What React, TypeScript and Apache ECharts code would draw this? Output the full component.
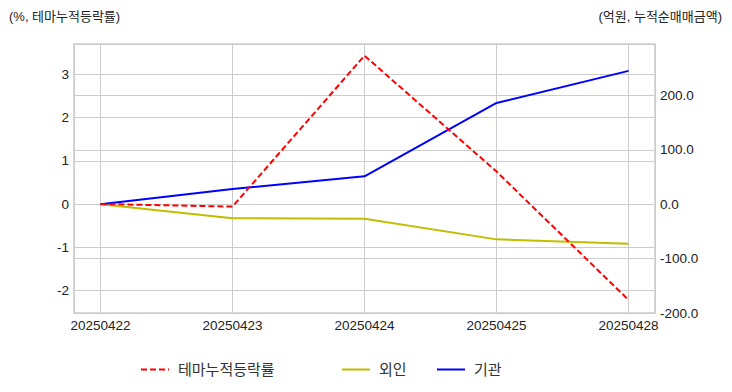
import React, { useEffect, useRef } from "react";
import * as echarts from "echarts";

const categories = ["20250422", "20250423", "20250424", "20250425", "20250428"];
const themeReturn = [0, -0.06, 3.43, 0.75, -2.22];
const foreign = [0, -25.5, -26.5, -64.5, -72.5];
const institution = [0, 28, 51.6, 186.5, 245.5];

const leftTitle = "(%, 테마누적등락률)";
const rightTitle = "(억원, 누적순매매금액)";

const FONT = "'Liberation Sans', 'Noto Sans CJK KR', sans-serif";

export default function App() {
  const ref = useRef<HTMLDivElement>(null);
  useEffect(() => {
    if (!ref.current) return;
    const chart = echarts.init(ref.current, null, { renderer: "svg" });
    const toPairs = (arr: number[]) => arr.map((v, i) => [i, v]);
    const legendText = { color: "#333", fontSize: 15, fontFamily: FONT, padding: [0, 0, 0, 4] };
    const legendBase = { top: 362, padding: 0, itemWidth: 28, itemHeight: 14, textStyle: legendText, itemStyle: { opacity: 0 } };
    chart.setOption({
      animation: false,
      backgroundColor: "#ffffff",
      textStyle: { fontFamily: FONT },
      grid: { left: 74, right: 77, top: 44, bottom: 79, show: true, borderColor: "#cccccc", borderWidth: 1.5, containLabel: false },
      graphic: [
        { type: "text", left: 9, top: 10, style: { text: leftTitle, fill: "#222", font: `13px ${FONT}` } },
        { type: "text", right: 10, top: 10, style: { text: rightTitle, fill: "#222", font: `13px ${FONT}` } },
      ],
      legend: [
        { ...legendBase, data: ["테마누적등락률"], left: 140 },
        { ...legendBase, data: ["외인"], left: 341 },
        { ...legendBase, data: ["기관"], left: 436 },
      ],
      xAxis: {
        type: "value",
        min: -0.2,
        max: 4.2,
        axisLine: { show: false },
        axisTick: { show: false },
        splitLine: { show: true, lineStyle: { color: "#cccccc", width: 1 } },
        axisLabel: {
          color: "#222",
          fontSize: 13.5,
          margin: 6,
          showMinLabel: true,
          showMaxLabel: true,
          formatter: (v: number) => (Number.isInteger(v) && categories[v] !== undefined ? categories[v] : ""),
        },
      },
      yAxis: [
        {
          type: "value",
          min: -2.52,
          max: 3.7,
          position: "left",
          axisLine: { show: false },
          axisTick: { show: false },
          splitLine: { show: true, lineStyle: { color: "#cccccc", width: 1 } },
          axisLabel: {
            color: "#222",
            fontSize: 13.5,
            margin: 5,
            formatter: (v: number) => (Math.abs(v - Math.round(v)) < 1e-9 ? String(Math.round(v)) : ""),
          },
        },
        {
          type: "value",
          min: -200,
          max: 295,
          position: "right",
          axisLine: { show: false },
          axisTick: { show: false },
          splitLine: { show: true, lineStyle: { color: "#cccccc", width: 1 } },
          axisLabel: {
            color: "#222",
            fontSize: 13.5,
            margin: 5,
            showMinLabel: true,
            formatter: (v: number) => (Math.abs(v % 100) < 1e-9 ? v.toFixed(1) : ""),
          },
        },
      ],
      series: [
        {
          name: "테마누적등락률",
          type: "line",
          yAxisIndex: 0,
          data: toPairs(themeReturn),
          symbol: "none",
          color: "#ff0000",
          lineStyle: { color: "#ff0000", width: 2, type: [6, 3] },
          z: 3,
        },
        {
          name: "외인",
          type: "line",
          yAxisIndex: 1,
          data: toPairs(foreign),
          symbol: "none",
          color: "#bfbf00",
          lineStyle: { color: "#bfbf00", width: 2 },
          z: 2,
        },
        {
          name: "기관",
          type: "line",
          yAxisIndex: 1,
          data: toPairs(institution),
          symbol: "none",
          color: "#0000ff",
          lineStyle: { color: "#0000ff", width: 2 },
          z: 2,
        },
      ],
    });
    return () => chart.dispose();
  }, []);
  return (
    <div
      ref={ref}
      style={{ position: "fixed", left: 0, top: 0, width: 732, height: 392, background: "#fff" }}
    />
  );
}
